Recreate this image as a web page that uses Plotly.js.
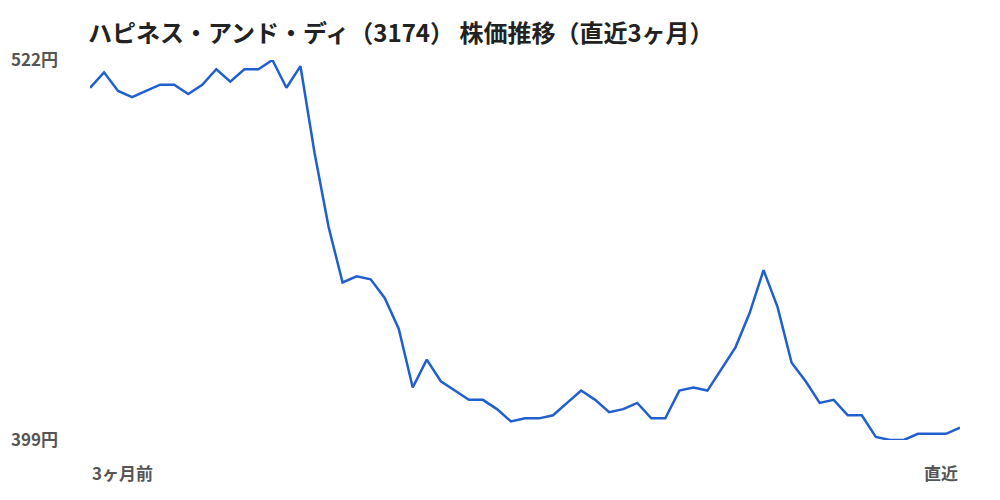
<!DOCTYPE html>
<html>
<head>
<meta charset="utf-8">
<script src="https://cdn.plot.ly/plotly-3.0.1.min.js"></script>
<style>
  html, body { margin: 0; padding: 0; background: #fff; }
  #chart { width: 1000px; height: 500px; }
</style>
</head>
<body>
<div id="chart"></div>
<script>
// daily closes over the last ~3 months
const prices = [
    513, 518, 512, 510, 512, 514, 514, 511, 514, 519,
    515, 519, 519, 522, 513, 520, 492, 468, 450, 452,
    451, 445, 435, 416, 425, 418, 415, 412, 412, 409,
    405, 406, 406, 407, 411, 415, 412, 408, 409, 411,
    406, 406, 415, 416, 415, 422, 429, 440, 454, 442,
    424, 418, 411, 412, 407, 407, 400, 399, 399, 401,
    401, 401, 403,
];
const days = prices.map((_, i) => i);

const yTicks = [399, 522];
const yTickText = yTicks.map(v => v + "円");
const startLabel = "3ヶ月前";
const endLabel = "直近";
const chartTitle = "ハピネス・アンド・ディ（3174） 株価推移（直近3ヶ月）";

const FONT = "'Noto Sans CJK JP', 'Noto Sans', sans-serif";

const trace = {
    x: days,
    y: prices,
    type: "scatter",
    mode: "lines",
    line: { color: "#1f5fcf", width: 2.5 },
    hoverinfo: "skip",
};

const layout = {
    width: 1000,
    height: 500,
    paper_bgcolor: "#fff",
    plot_bgcolor: "#fff",
    margin: { t: 60, b: 60, l: 90, r: 40 },
    showlegend: false,
    font: { family: FONT, color: "#555" },
    title: {
        text: "<b>" + chartTitle + "</b>",
        x: 0.088, xanchor: "left",
        y: 0.932, yanchor: "middle",
        font: { family: FONT, size: 24, color: "#222" },
    },
    xaxis: {
        range: [0, days.length - 1],
        showgrid: false, zeroline: false, showline: false,
        showticklabels: false, ticks: "",
    },
    yaxis: {
        range: [yTicks[0], yTicks[1]],
        showgrid: false, zeroline: false, showline: false,
        tickvals: yTicks,
        ticktext: yTickText.map(t => "<b>" + t + "</b>"),
        tickfont: { family: FONT, size: 17, color: "#555" },
        ticks: "",
        ticklabelstandoff: 31,
    },
    annotations: [
        {
            x: days[0], y: 0, xref: "x", yref: "paper",
            xanchor: "left", yanchor: "top", yshift: -18,
            text: "<b>" + startLabel + "</b>", showarrow: false,
            font: { family: FONT, size: 17, color: "#555" },
        },
        {
            x: days[days.length - 1], y: 0, xref: "x", yref: "paper",
            xanchor: "right", yanchor: "top", yshift: -18,
            text: "<b>" + endLabel + "</b>", showarrow: false,
            font: { family: FONT, size: 17, color: "#555" },
        },
    ],
};

Plotly.newPlot("chart", [trace], layout, { displayModeBar: false, staticPlot: true });
</script>
</body>
</html>
